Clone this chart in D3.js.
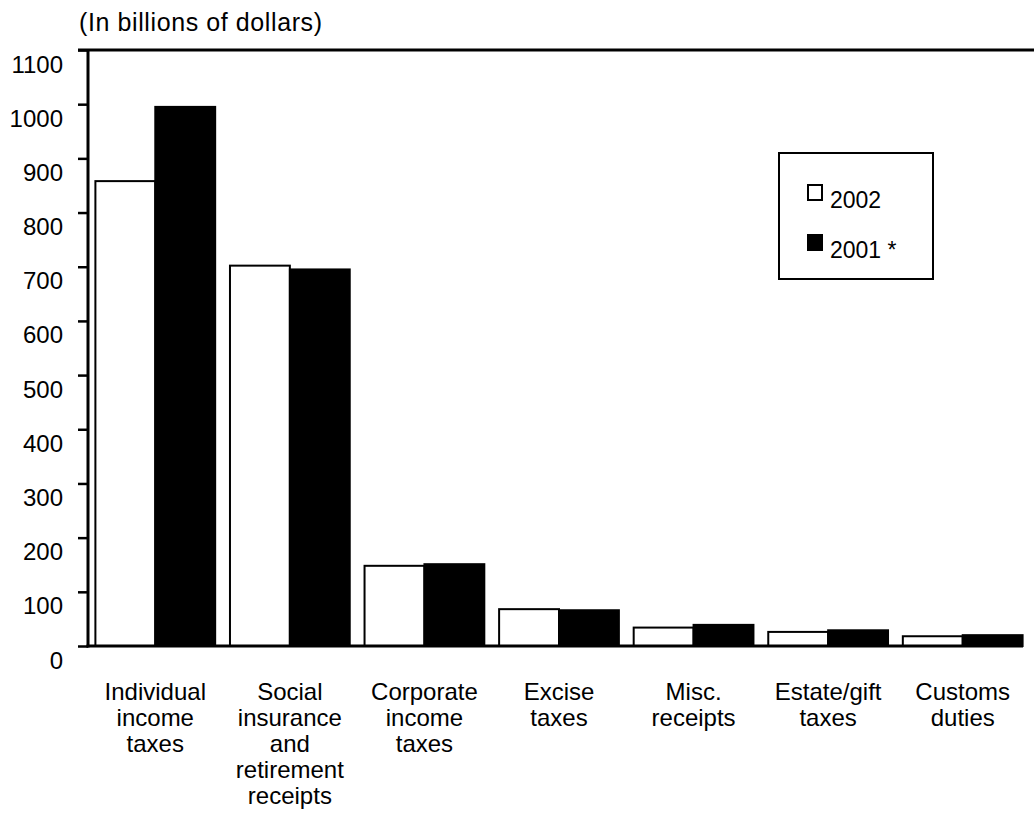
<!DOCTYPE html>
<html>
<head>
<meta charset="utf-8">
<script src="https://cdn.jsdelivr.net/npm/d3@7"></script>
<style>
  html, body { margin: 0; padding: 0; background: #fff; }
  svg { display: block; font-family: "Liberation Sans", Arial, sans-serif; }
</style>
</head>
<body>
<svg id="chart" width="1034" height="823"></svg>
<script>
const categories = [
  ["Individual", "income", "taxes"],
  ["Social", "insurance", "and", "retirement", "receipts"],
  ["Corporate", "income", "taxes"],
  ["Excise", "taxes"],
  ["Misc.", "receipts"],
  ["Estate/gift", "taxes"],
  ["Customs", "duties"]
];
const seriesNames = ["2002", "2001 *"];
const values2002 = [858, 702, 148, 68, 34, 26, 18];
const values2001 = [995, 695, 151, 66, 39, 29, 20];
const yTicks = [0, 100, 200, 300, 400, 500, 600, 700, 800, 900, 1000, 1100];
const title = "(In billions of dollars)";

const fills = ["#ffffff", "#000000"];
const svg = d3.select("#chart");
const fontSize = 24;

const catKeys = categories.map(c => c.join(" "));
const x = d3.scaleBand().domain(catKeys).range([88, 1030]).paddingInner(0.11).paddingOuter(0.055);
const xs = d3.scaleBand().domain(seriesNames).range([0, x.bandwidth()]).padding(0);
const y = d3.scaleLinear().domain([0, 1100]).range([646, 50]);

// title
svg.append("text").attr("x", 79).attr("y", 31)
  .attr("font-size", 25).attr("fill", "#000")
  .attr("textLength", 243).attr("lengthAdjust", "spacing")
  .text(title);

// top frame line
svg.append("line").attr("x1", 78).attr("x2", 1034)
  .attr("y1", y(1100)).attr("y2", y(1100))
  .attr("stroke", "#000").attr("stroke-width", 3);

// bars
const data = catKeys.map((k, i) => ({ key: k, vals: [values2002[i], values2001[i]] }));
const groups = svg.append("g").selectAll("g").data(data).join("g")
  .attr("transform", d => `translate(${x(d.key)},0)`);
groups.selectAll("rect").data(d => d.vals.map((v, j) => ({ v, s: seriesNames[j], j })))
  .join("rect")
  .attr("x", d => xs(d.s))
  .attr("width", xs.bandwidth())
  .attr("y", d => y(d.v))
  .attr("height", d => y(0) - y(d.v))
  .attr("fill", d => fills[d.j])
  .attr("stroke", "#000").attr("stroke-width", 2);

// y axis
const yAxis = d3.axisLeft(y).tickValues(yTicks).tickSize(10).tickPadding(15).tickFormat(d3.format("d"));
const ya = svg.append("g").attr("transform", "translate(88,0)").call(yAxis);
ya.select(".domain").attr("stroke-width", 3).attr("d", `M0,${y(1100)}V${y(0) + 1.5}`);
ya.selectAll(".tick line").attr("stroke-width", 2.5);
ya.selectAll(".tick text").attr("font-size", fontSize).attr("font-family", "Liberation Sans, Arial, sans-serif")
  .attr("fill", "#000").attr("dy", "0.92em");

// x axis baseline
const xa = svg.append("g").attr("transform", `translate(0,${y(0)})`)
  .call(d3.axisBottom(x).tickSize(0).tickFormat(""));
xa.select(".domain").attr("stroke-width", 3).attr("d", "M86.5,0H1023");

// x labels
const lbl = svg.append("g").selectAll("text").data(categories).join("text")
  .attr("text-anchor", "middle").attr("font-size", fontSize).attr("fill", "#000")
  .attr("transform", (d, i) => `translate(${x(catKeys[i]) + x.bandwidth() / 2},700)`);
lbl.selectAll("tspan").data(d => d).join("tspan")
  .attr("x", 0).attr("y", (d, i) => i * 26).text(d => d);

// legend
const lg = svg.append("g");
lg.append("rect").attr("x", 779).attr("y", 153).attr("width", 154).attr("height", 126)
  .attr("fill", "#fff").attr("stroke", "#000").attr("stroke-width", 2);
const items = lg.selectAll("g.item").data(seriesNames).join("g").attr("class", "item")
  .attr("transform", (d, i) => `translate(808,${185 + i * 50})`);
items.append("rect").attr("width", 14).attr("height", 15)
  .attr("fill", (d, i) => fills[i]).attr("stroke", "#000").attr("stroke-width", 2);
items.append("text").attr("x", 22).attr("y", 23).attr("font-size", 23).attr("fill", "#000").text(d => d);
</script>
</body>
</html>
